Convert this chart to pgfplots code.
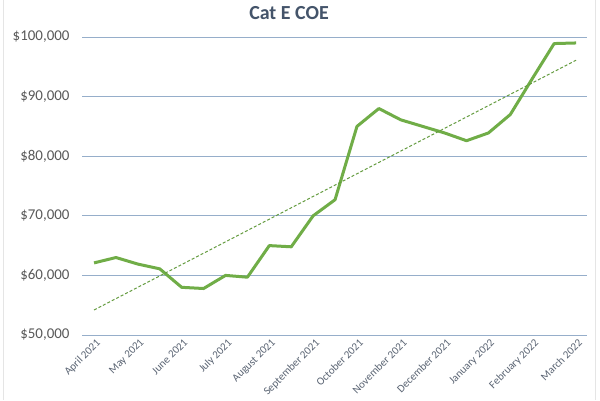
\documentclass[border=0pt]{standalone}
\usepackage{pgfplots}
\usepackage{pgfplotstable}
\pgfplotsset{compat=1.18}
\usepackage{fontspec}
\setmainfont{Carlito}
\definecolor{linegreen}{RGB}{112,173,71}
\definecolor{gridblue}{RGB}{150,174,202}
\definecolor{titlecol}{RGB}{68,84,106}
\definecolor{labcol}{RGB}{89,89,89}
\definecolor{xlabcol}{RGB}{90,100,115}
\pgfplotstableread{
x y
0 62100
1 63000
2 61900
3 61100
4 58000
5 57800
6 60000
7 59700
8 65000
9 64800
10 70000
11 72700
12 85000
13 88000
14 86100
15 85000
16 83900
17 82600
18 83900
19 87000
20 93000
21 98900
22 99000
}\coedata
\begin{document}
\begin{tikzpicture}[x=1bp,y=1bp]
\useasboundingbox[fill=white] (0,0) rectangle (600,400);
\draw[gray!20, line width=0.8bp] (3,0) -- (3,400);
\draw[gray!20, line width=0.8bp] (595,0) -- (595,400);
\node[font=\fontsize{20}{22}\selectfont\bfseries, text=titlecol] at (289,386.5) {Cat E COE};
\begin{axis}[
  at={(82bp,65bp)}, anchor=south west,
  scale only axis,
  width=505bp, height=298bp,
  xmin=-0.55, xmax=22.5,
  ymin=50000, ymax=100000,
  axis line style={draw=none},
  ymajorgrids,
  grid style={gridblue, line width=0.9bp},
  major tick length=0pt,
  ytick={50000,60000,70000,80000,90000,100000},
  yticklabels={{\$50,000},{\$60,000},{\$70,000},{\$80,000},{\$90,000},{\$100,000}},
  yticklabel style={font=\fontsize{15}{17}\selectfont, text=labcol, anchor=east, xshift=-9bp},
  xtick={0,2,...,22},
  xticklabels={April 2021,May 2021,June 2021,July 2021,August 2021,September 2021,October 2021,November 2021,December 2021,January 2022,February 2022,March 2022},
  xticklabel style={font=\fontsize{11}{13}\selectfont, text=xlabcol, rotate=45, anchor=north east, inner sep=1bp, yshift=-2bp},
  scaled y ticks=false,
  clip=false,
]
\addplot[linegreen, line width=3bp, line join=round] table[x=x,y=y] {\coedata};
\addplot[linegreen!90!black, line width=1bp, dash pattern=on 3bp off 2bp] table[x=x, y={create col/linear regression={y=y}}] {\coedata};
\end{axis}
\end{tikzpicture}
\end{document}
